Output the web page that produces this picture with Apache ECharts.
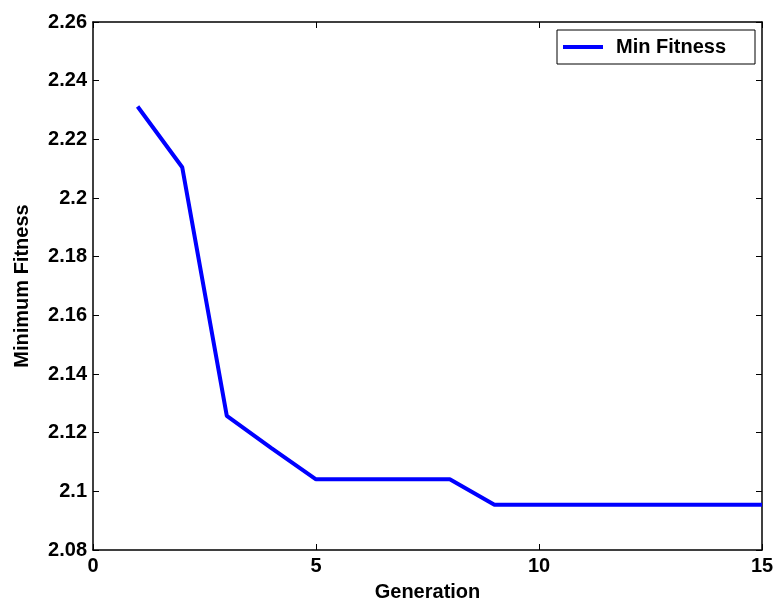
<!DOCTYPE html>
<html>
<head>
<meta charset="utf-8">
<script src="https://cdn.jsdelivr.net/npm/echarts@6/dist/echarts.min.js"></script>
<style>
  html, body { margin: 0; padding: 0; background: #fff; }
  #chart { width: 778px; height: 607px; }
</style>
</head>
<body>
<div id="chart"></div>
<script>
// generations and best fitness per generation
const generations = [1, 2, 3, 4, 5, 6, 7, 8, 9, 10, 11, 12, 13, 14, 15];
const minFitness = [2.2312, 2.2105, 2.1257, 2.1147, 2.1041, 2.1041, 2.1041, 2.1041,
                    2.0954, 2.0954, 2.0954, 2.0954, 2.0954, 2.0954, 2.0954];
const xTicks = [0, 5, 10, 15];
const yTicks = [2.08, 2.1, 2.12, 2.14, 2.16, 2.18, 2.2, 2.22, 2.24, 2.26];

const font = 'Liberation Sans, Arial, sans-serif';
const fs = 20;
const chart = echarts.init(document.getElementById('chart'));

const tickStyle = { show: true, inside: true, length: 6, lineStyle: { color: '#000', width: 1 } };
const lineAxis = { show: true, onZero: false, lineStyle: { color: '#000', width: 1.5 } };

const option = {
    animation: false,
    backgroundColor: '#fff',
    grid: { left: 93, right: 16, top: 22, bottom: 56, containLabel: false },
    legend: {
        left: 557, top: 30,
        padding: [7, 29, 7, 6],
        borderColor: '#000', borderWidth: 1,
        backgroundColor: '#fff',
        icon: 'rect',
        itemWidth: 40, itemHeight: 4,
        textStyle: { fontFamily: font, fontWeight: 'bold', fontSize: fs, color: '#000', padding: [0, 0, 0, 8] },
        data: ['Min Fitness']
    },
    xAxis: [{
        type: 'value', min: xTicks[0], max: xTicks[xTicks.length - 1], interval: 5,
        name: 'Generation', nameLocation: 'middle', nameGap: 32,
        nameTextStyle: { fontFamily: font, fontWeight: 'bold', fontSize: fs, color: '#000' },
        axisLine: lineAxis, axisTick: tickStyle, splitLine: { show: false },
        axisLabel: { fontFamily: font, fontWeight: 'bold', fontSize: fs, color: '#000', margin: 6 }
    }, {
        type: 'value', position: 'top', min: xTicks[0], max: xTicks[xTicks.length - 1], interval: 5,
        axisLine: lineAxis, axisTick: tickStyle, axisLabel: { show: false }, splitLine: { show: false }
    }],
    yAxis: [{
        type: 'value', min: yTicks[0], max: yTicks[yTicks.length - 1], interval: 0.02,
        name: 'Minimum Fitness', nameLocation: 'middle', nameGap: 61,
        nameTextStyle: { fontFamily: font, fontWeight: 'bold', fontSize: fs, color: '#000' },
        axisLine: lineAxis, axisTick: tickStyle, splitLine: { show: false },
        axisLabel: {
            fontFamily: font, fontWeight: 'bold', fontSize: fs, color: '#000', margin: 6,
            formatter: v => String(parseFloat(v.toFixed(2)))
        }
    }, {
        type: 'value', position: 'right', min: yTicks[0], max: yTicks[yTicks.length - 1], interval: 0.02,
        axisLine: lineAxis, axisTick: tickStyle, axisLabel: { show: false }, splitLine: { show: false }
    }],
    series: [{
        name: 'Min Fitness', type: 'line',
        data: generations.map((g, i) => [g, minFitness[i]]),
        symbol: 'none',
        lineStyle: { color: '#0000ff', width: 4 },
        itemStyle: { color: '#0000ff' }
    }]
};
chart.setOption(option);
</script>
</body>
</html>
